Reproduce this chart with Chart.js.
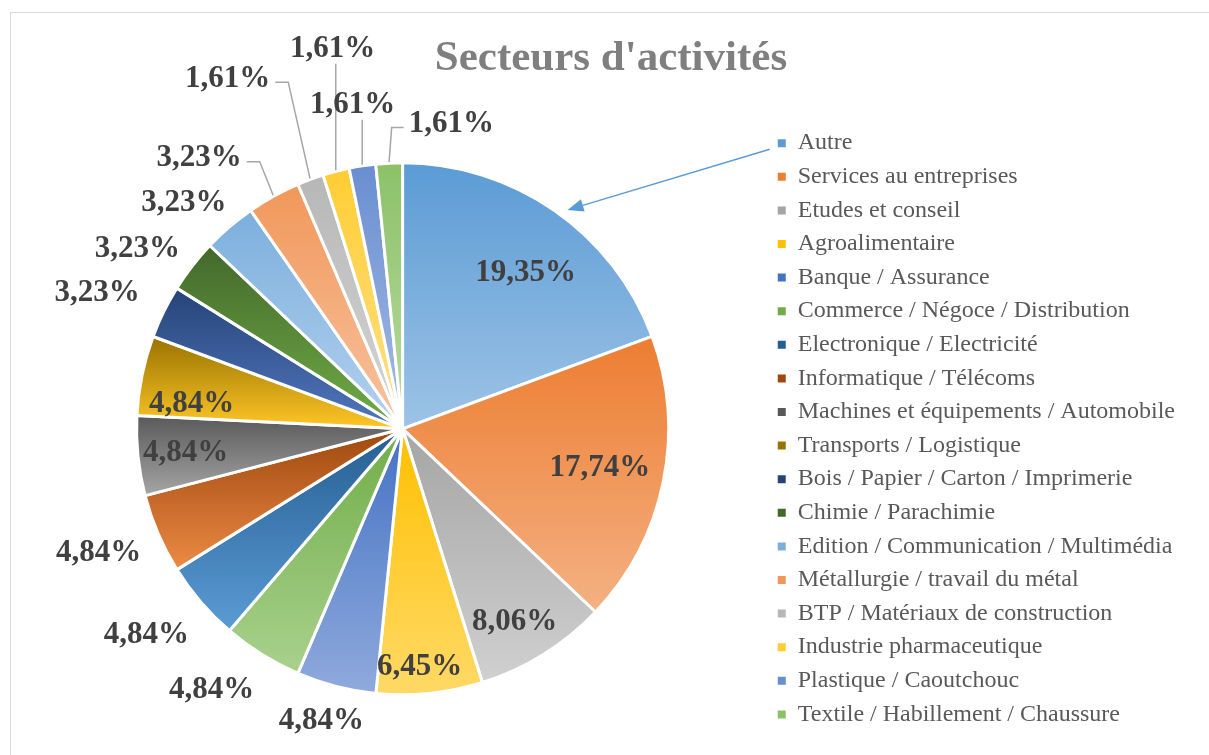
<!DOCTYPE html>
<html>
<head>
<meta charset="utf-8">
<script src="https://cdn.jsdelivr.net/npm/chart.js@4/dist/chart.umd.min.js"></script>
<style>
  html, body { margin: 0; padding: 0; background: #fff; }
  #wrap { width: 1209px; height: 755px; position: relative; }
</style>
</head>
<body>
<div id="wrap"><canvas id="pie-chart"></canvas></div>
<script>
// secteurs et parts (en %)
const secteurs = ["Autre", "Services au entreprises", "Etudes et conseil", "Agroalimentaire",
  "Banque / Assurance", "Commerce / Négoce / Distribution", "Electronique / Electricité",
  "Informatique / Télécoms", "Machines et équipements / Automobile", "Transports / Logistique",
  "Bois / Papier / Carton / Imprimerie", "Chimie / Parachimie", "Edition / Communication / Multimédia",
  "Métallurgie / travail du métal", "BTP / Matériaux de construction", "Industrie pharmaceutique",
  "Plastique / Caoutchouc", "Textile / Habillement / Chaussure"];
const parts = [19.35, 17.74, 8.06, 6.45, 4.84, 4.84, 4.84, 4.84, 4.84, 4.84,
  3.23, 3.23, 3.23, 3.23, 1.61, 1.61, 1.61, 1.61];

// couleurs : haut du secteur -> bas du secteur (dégradé)
const colTop = ["#5b9bd5", "#ed7d31", "#a5a5a5", "#ffc000", "#4472c4", "#70ad47", "#255e91", "#9e480e",
  "#595959", "#997300", "#264478", "#43682b", "#7cafdd", "#f1975a", "#b7b7b7", "#ffcd33", "#698ed0", "#8cc168"];
const colBottom = ["#9dc3e6", "#f4b183", "#d0d0d0", "#ffd966", "#8faadc", "#a9d18e", "#5b9bd5", "#ed8a45",
  "#a5a5a5", "#ffc727", "#5277c0", "#70ad47", "#b4d1ee", "#f8c3a0", "#d5d5d5", "#ffe18a", "#a6bce6", "#b9dca2"];

// placement des étiquettes : décalage angulaire (deg) et distance (x rayon)
const labelShift = [3, -1, 1.5, 1.7, 1.2, 4.5, 2.2, 1.5, 0, -4.1, -1.8, -3.2, -3.1, -7.7, -6.1, 4.1, 0, 11.9];
const labelDist = [0.755, 0.755, 0.83, 0.89, 1.13, 1.21, 1.23, 1.23, 0.82, 0.80, 1.26, 1.21, 1.19, 1.28, 1.48, 1.46, 1.24, 1.17];
const leader = {13: 'r', 14: 'r', 15: 'b', 16: 'b', 17: 'l'};

const R = 266;
const serif = "'Liberation Serif', 'Times New Roman', serif";
Chart.defaults.font.family = serif;

function sliceGradient(chart, i) {
  const area = chart.chartArea;
  if (!area) return colTop[i];
  const cy = (area.top + area.bottom) / 2;
  const total = parts.reduce((a, b) => a + b, 0);
  const before = parts.slice(0, i).reduce((a, b) => a + b, 0);
  const a0 = -Math.PI / 2 + 2 * Math.PI * before / total;
  const a1 = a0 + 2 * Math.PI * parts[i] / total;
  const ys = [cy, cy + R * Math.sin(a0), cy + R * Math.sin(a1)];
  if (a0 < Math.PI / 2 && a1 > Math.PI / 2) ys.push(cy + R);
  const g = chart.ctx.createLinearGradient(0, Math.min(...ys), 0, Math.max(...ys));
  g.addColorStop(0, colTop[i]);
  g.addColorStop(1, colBottom[i]);
  return g;
}

const frame = {
  id: 'frame',
  beforeDraw(chart) {
    const ctx = chart.ctx;
    ctx.save();
    ctx.strokeStyle = '#d9d9d9';
    ctx.lineWidth = 1;
    ctx.strokeRect(10.5, 12.5, 1400, 900);
    ctx.restore();
  }
};

const pctLabels = {
  id: 'pctLabels',
  afterDatasetsDraw(chart) {
    const ctx = chart.ctx;
    const meta = chart.getDatasetMeta(0);
    ctx.save();
    ctx.font = 'bold 31px ' + serif;
    ctx.fillStyle = '#404040';
    ctx.textAlign = 'center';
    ctx.textBaseline = 'alphabetic';
    meta.data.forEach((arc, i) => {
      const p = arc.getProps(['x', 'y', 'startAngle', 'endAngle', 'outerRadius'], true);
      const mid = (p.startAngle + p.endAngle) / 2;
      const a = mid + labelShift[i] * Math.PI / 180;
      const d = p.outerRadius * labelDist[i];
      const lx = p.x + d * Math.cos(a), ly = p.y + d * Math.sin(a);
      const txt = parts[i].toFixed(2).replace('.', ',') + '%';
      ctx.fillText(txt, lx, ly + 10.5);
      const type = leader[i];
      if (type) {
        const hw = ctx.measureText(txt).width / 2;
        const ex = p.x + (p.outerRadius + 1) * Math.cos(mid);
        const ey = p.y + (p.outerRadius + 1) * Math.sin(mid);
        ctx.beginPath();
        ctx.strokeStyle = '#a6a6a6';
        ctx.lineWidth = 1.5;
        if (type === 'r') {
          ctx.moveTo(lx + hw + 5, ly + 6);
          ctx.lineTo(lx + hw + 18, ly + 6);
        } else if (type === 'l') {
          ctx.moveTo(lx - hw - 5, ly + 6);
          ctx.lineTo(lx - hw - 17, ly + 6);
        } else {
          ctx.moveTo(ex, ly + 17);
        }
        ctx.lineTo(ex, ey);
        ctx.stroke();
      }
    });
    ctx.restore();
  }
};

const arrow = {
  id: 'arrow',
  afterDraw(chart) {
    const box = chart.legend.legendHitBoxes[0];
    const arc = chart.getDatasetMeta(0).data[0];
    if (!box || !arc) return;
    const p = arc.getProps(['x', 'y', 'outerRadius'], true);
    const ang = -Math.PI / 2 + 37 * Math.PI / 180;
    const tx = p.x + (p.outerRadius + 8) * Math.cos(ang);
    const ty = p.y + (p.outerRadius + 8) * Math.sin(ang);
    const sx = box.left - 8, sy = box.top + box.height / 2 + 6;
    const dir = Math.atan2(ty - sy, tx - sx);
    const len = 16, half = 6.5;
    const bx = tx - len * Math.cos(dir), by = ty - len * Math.sin(dir);
    const ctx = chart.ctx;
    ctx.save();
    ctx.strokeStyle = '#5b9bd5';
    ctx.fillStyle = '#5b9bd5';
    ctx.lineWidth = 1.5;
    ctx.beginPath();
    ctx.moveTo(sx, sy);
    ctx.lineTo(bx, by);
    ctx.stroke();
    ctx.beginPath();
    ctx.moveTo(tx, ty);
    ctx.lineTo(bx + half * Math.sin(dir), by - half * Math.cos(dir));
    ctx.lineTo(bx - half * Math.sin(dir), by + half * Math.cos(dir));
    ctx.closePath();
    ctx.fill();
    ctx.restore();
  }
};

new Chart(document.getElementById("pie-chart"), {
  type: 'pie',
  data: {
    labels: secteurs,
    datasets: [{
      data: parts,
      backgroundColor: (c) => c.type === 'data' ? sliceGradient(c.chart, c.dataIndex) : colTop[0],
      borderColor: '#ffffff',
      borderWidth: 3,
      radius: R
    }]
  },
  options: {
    responsive: true,
    maintainAspectRatio: false,
    animation: false,
    layout: { padding: { top: 10, left: 37, right: 24, bottom: 4 } },
    plugins: {
      title: {
        display: true,
        text: "Secteurs d'activités",
        color: '#7f7f7f',
        font: { size: 43, weight: 'bold', family: serif },
        padding: { top: 23, bottom: 22 }
      },
      legend: {
        position: 'right',
        fullSize: false,
        labels: {
          boxWidth: 8,
          boxHeight: 8,
          padding: 9.6,
          color: '#595959',
          font: { size: 24, family: serif },
          generateLabels: () => secteurs.map((s, i) => ({
            text: s, fillStyle: colTop[i], strokeStyle: colTop[i], lineWidth: 0,
            hidden: false, index: i, fontColor: '#595959'
          }))
        }
      },
      tooltip: { enabled: false }
    }
  },
  plugins: [frame, pctLabels, arrow]
});
</script>
</body>
</html>
